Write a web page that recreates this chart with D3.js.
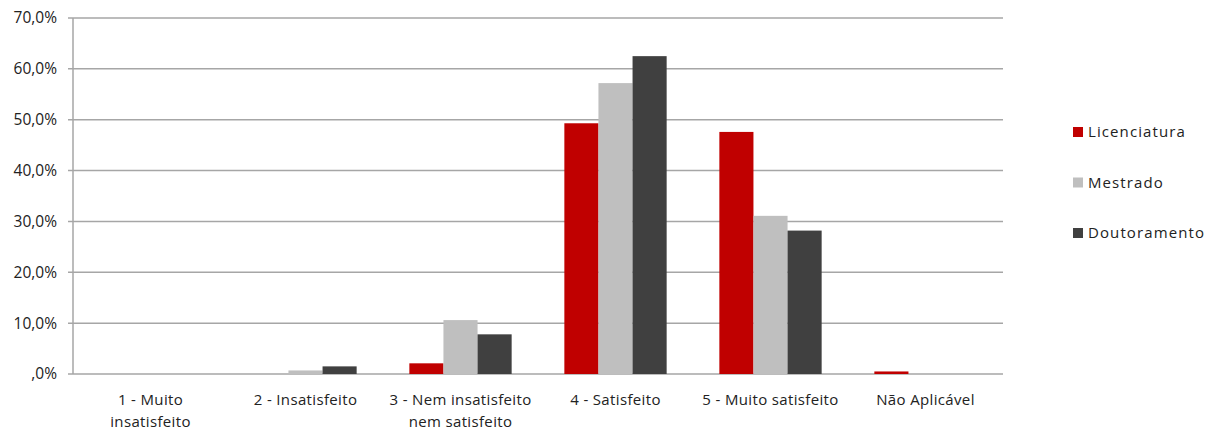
<!DOCTYPE html>
<html>
<head>
<meta charset="utf-8">
<script src="https://cdn.jsdelivr.net/npm/d3@7"></script>
<style>
html,body{margin:0;padding:0;background:#fff;}
svg{display:block;font-family:"Open Sans",Lato,sans-serif;}
</style>
</head>
<body>
<svg id="chart" width="1208" height="432"></svg>
<script>
const categories = [["1 - Muito","insatisfeito"],["2 - Insatisfeito"],["3 - Nem insatisfeito","nem satisfeito"],["4 - Satisfeito"],["5 - Muito satisfeito"],["Não Aplicável"]];
const seriesNames = ["Licenciatura","Mestrado","Doutoramento"];
const licenciatura = [0, 0, 2.1, 49.3, 47.6, 0.5];
const mestrado = [0, 0.7, 10.6, 57.2, 31.1, 0];
const doutoramento = [0, 1.5, 7.8, 62.5, 28.2, 0];
const yTicks = [0,10,20,30,40,50,60,70];
const colors = ["#C00000","#BFBFBF","#404040"];

const svg = d3.select("#chart");
const m = {left:73, right:1003, top:18, bottom:374};
const x = d3.scaleBand().domain(d3.range(categories.length)).range([m.left,m.right]).paddingInner(0.34).paddingOuter(0.17);
const xs = d3.scaleBand().domain(d3.range(3)).range([0,x.bandwidth()]);
const y = d3.scaleLinear().domain([0,70]).range([m.bottom,m.top]);
const fmt = v => (v===0 ? "" : d3.format("d")(v)) + ",0%";

svg.append("g").selectAll("line").data(yTicks).join("line")
  .attr("x1",m.left-5).attr("x2",m.right)
  .attr("y1",d=>y(d)).attr("y2",d=>y(d))
  .attr("stroke","#A6A6A6").attr("stroke-width",1.5);
svg.append("line").attr("x1",m.left).attr("x2",m.left).attr("y1",y(70)).attr("y2",y(0))
  .attr("stroke","#A6A6A6").attr("stroke-width",1.5);
svg.append("g").selectAll("text").data(yTicks).join("text")
  .attr("x",m.left-16).attr("y",d=>y(d)).attr("dy","0.35em")
  .attr("text-anchor","end").attr("font-size",15.5).attr("fill","#222")
  .text(fmt);

const data = [licenciatura, mestrado, doutoramento];
data.forEach((vals,si)=>{
  svg.append("g").selectAll("rect").data(vals).join("rect")
    .attr("x",(d,i)=>x(i)+xs(si))
    .attr("width",xs.bandwidth())
    .attr("y",d=>y(d))
    .attr("height",d=>y(0)-y(d))
    .attr("fill",colors[si]);
});

const xl = svg.append("g").selectAll("text").data(categories).join("text")
  .attr("x",(d,i)=>x(i)+x.bandwidth()/2)
  .attr("y",405).attr("text-anchor","middle").attr("font-size",15).attr("fill","#222")
  .attr("letter-spacing",0.35);
xl.each(function(d,i){
  const t = d3.select(this);
  d.forEach((line,li)=>{
    t.append("tspan").attr("x",x(i)+x.bandwidth()/2).attr("dy",li===0?0:22).text(line);
  });
});

const lg = svg.append("g").selectAll("g").data(seriesNames).join("g")
  .attr("transform",(d,i)=>`translate(1073,${132+i*50.5})`);
lg.append("rect").attr("x",0).attr("y",-5).attr("width",10).attr("height",10).attr("fill",(d,i)=>colors[i]);
lg.append("text").attr("x",15).attr("dy","0.35em").attr("font-size",15).attr("fill","#222")
  .attr("letter-spacing",1.1).text(d=>d);
</script>
</body>
</html>
